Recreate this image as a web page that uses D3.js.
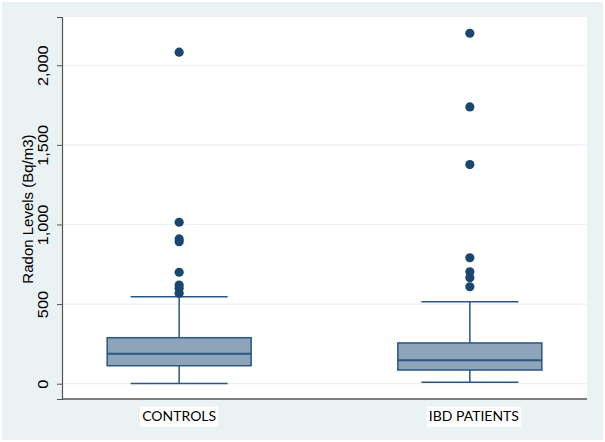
<!DOCTYPE html>
<html>
<head>
<meta charset="utf-8">
<script src="https://cdn.jsdelivr.net/npm/d3@7"></script>
<style>
  body { margin: 0; background: #fff; }
</style>
</head>
<body>
<script>
// groups and their box-plot summaries (Bq/m3)
const groups = ["CONTROLS", "IBD PATIENTS"];
const q1 = [113, 86];
const median = [188, 147];
const q3 = [289, 256];
const whiskLo = [2, 9];
const whiskHi = [546, 515];
const outliers = [
  [568, 599, 620, 700, 892, 909, 1014, 2082],
  [609, 666, 703, 791, 1376, 1738, 2201]
];
const yTicks = [0, 500, 1000, 1500, 2000];

const W = 605, H = 442;
const plot = {left: 62, right: 587, top: 17, bottom: 399};
const sans = "'Liberation Sans', Arial, sans-serif";

const svg = d3.select("body").append("svg")
  .attr("width", W).attr("height", H);

// outer background
svg.append("rect").attr("x", 2).attr("y", 2)
  .attr("width", W - 4).attr("height", H - 4)
  .attr("fill", "#eaf2f3");
svg.append("rect")
  .attr("x", plot.left).attr("y", plot.top)
  .attr("width", plot.right - plot.left).attr("height", plot.bottom - plot.top)
  .attr("fill", "#fff");

const y = d3.scaleLinear().domain([-96, 2303]).range([plot.bottom, plot.top]);
const x = d3.scalePoint().domain(groups).range([plot.left, plot.right]).padding(0.403);

// gridlines
svg.append("g").selectAll("line").data(yTicks).join("line")
  .attr("x1", plot.left).attr("x2", plot.right)
  .attr("y1", d => y(d)).attr("y2", d => y(d))
  .attr("stroke", "#eaf2f3").attr("stroke-width", 1.2);

// y axis
const yAxis = d3.axisLeft(y).tickValues(yTicks).tickSize(5).tickPadding(4)
  .tickFormat(d3.format(","));
const gy = svg.append("g").attr("transform", `translate(${plot.left},0)`).call(yAxis);
gy.select(".domain").attr("stroke", "#555").attr("stroke-width", 1.2);
gy.selectAll(".tick line").attr("stroke", "#555");
gy.selectAll(".tick text")
  .attr("x", null).attr("dy", null)
  .attr("text-anchor", "middle")
  .attr("transform", "translate(-19,0) rotate(-90) scale(1.25,1.1)")
  .attr("dy", "0.34em")
  .style("font-family", sans)
  .style("font-size", "13px")
  .style("fill", "#000");

// x axis line
svg.append("line")
  .attr("x1", plot.left).attr("x2", plot.right)
  .attr("y1", plot.bottom).attr("y2", plot.bottom)
  .attr("stroke", "#555").attr("stroke-width", 1.5);

// axis title
svg.append("text")
  .attr("transform", `translate(33,209) rotate(-90)`)
  .attr("text-anchor", "middle")
  .style("font-family", sans)
  .style("font-size", "15px")
  .text("Radon Levels (Bq/m3)");

// boxes
const boxW = 144, capW = 97;
const line = "#2a5680", fill = "#8ea4ba", dot = "#1a476f";
const g = svg.append("g");
groups.forEach((grp, i) => {
  const cx = x(grp);
  const b = g.append("g");
  b.append("line").attr("x1", cx).attr("x2", cx)
    .attr("y1", y(q3[i])).attr("y2", y(whiskHi[i]))
    .attr("stroke", line).attr("stroke-width", 1.5);
  b.append("line").attr("x1", cx).attr("x2", cx)
    .attr("y1", y(q1[i])).attr("y2", y(whiskLo[i]))
    .attr("stroke", line).attr("stroke-width", 1.5);
  [whiskHi[i], whiskLo[i]].forEach(v => {
    b.append("line").attr("x1", cx - capW / 2).attr("x2", cx + capW / 2)
      .attr("y1", y(v)).attr("y2", y(v))
      .attr("stroke", line).attr("stroke-width", 1.5);
  });
  b.append("rect")
    .attr("x", cx - boxW / 2).attr("width", boxW)
    .attr("y", y(q3[i])).attr("height", y(q1[i]) - y(q3[i]))
    .attr("fill", fill).attr("stroke", line).attr("stroke-width", 1.5);
  b.append("line").attr("x1", cx - boxW / 2).attr("x2", cx + boxW / 2)
    .attr("y1", y(median[i])).attr("y2", y(median[i]))
    .attr("stroke", line).attr("stroke-width", 2);
  b.selectAll("circle").data(outliers[i]).join("circle")
    .attr("cx", cx).attr("cy", d => y(d)).attr("r", 4.6)
    .attr("fill", dot);

  // category label with white backing
  const t = svg.append("text")
    .attr("x", cx + (i === 1 ? 4 : 0)).attr("y", 421)
    .attr("text-anchor", "middle")
    .style("font-family", "Lato, 'Open Sans', sans-serif")
    .style("font-size", "14px")
    .text(grp);
  const bb = t.node().getBBox();
  svg.insert("rect", () => t.node())
    .attr("x", bb.x - 2).attr("y", 406.5)
    .attr("width", bb.width + 4).attr("height", 20)
    .attr("fill", "#fff");
});
</script>
</body>
</html>
